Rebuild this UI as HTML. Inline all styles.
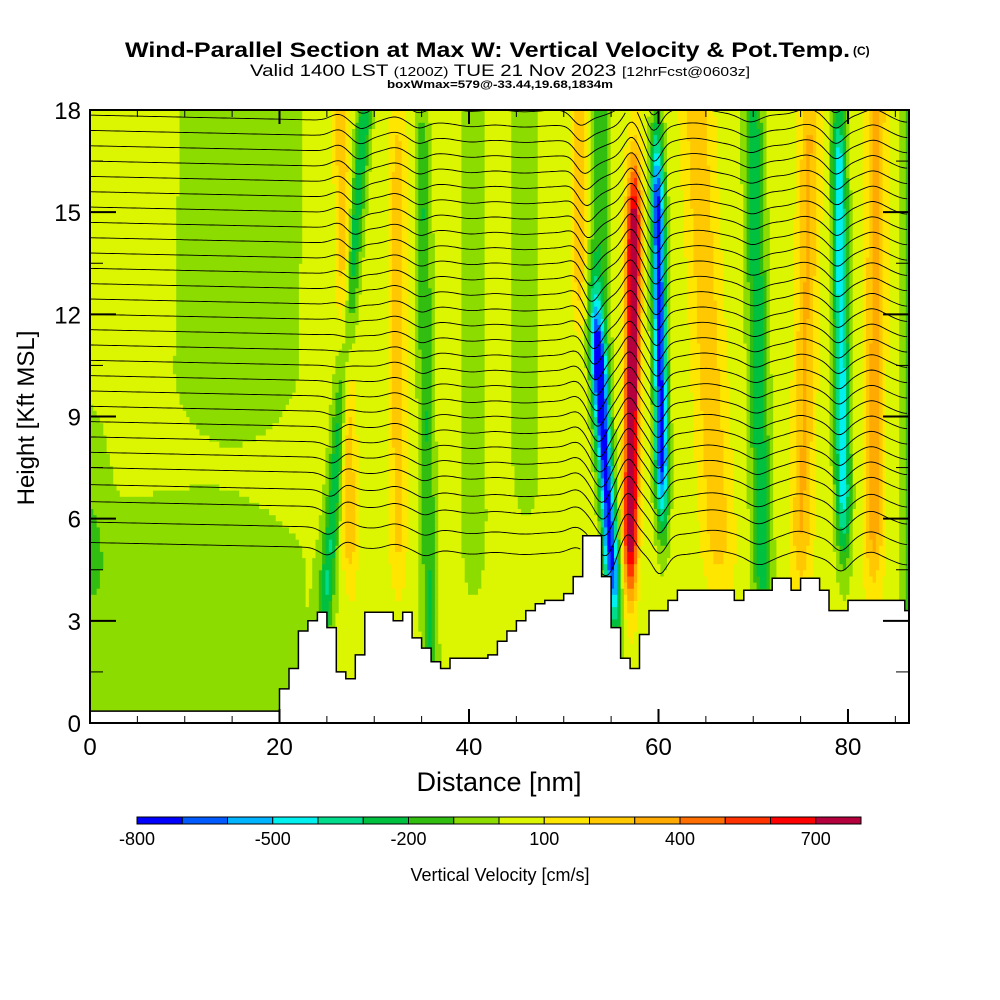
<!DOCTYPE html>
<html><head><meta charset="utf-8"><style>
html,body{margin:0;padding:0;background:#fff;}
svg{display:block;font-family:"Liberation Sans",sans-serif;}
</style></head><body>
<svg id="chart" width="1000" height="1000" viewBox="0 0 1000 1000">
<text x="125" y="57" textLength="725" lengthAdjust="spacingAndGlyphs" font-size="21" font-weight="bold">Wind-Parallel Section at Max W: Vertical Velocity &amp; Pot.Temp.</text>
<text x="853" y="55" font-size="12" font-weight="bold">(C)</text>
<text x="250" y="76" textLength="500" lengthAdjust="spacingAndGlyphs" font-size="17">Valid 1400 LST <tspan font-size="13">(1200Z)</tspan> TUE 21 Nov 2023 <tspan font-size="13">[12hrFcst@0603z]</tspan></text>
<text x="387" y="88" textLength="226" lengthAdjust="spacingAndGlyphs" font-size="11" font-weight="bold">boxWmax=579@-33.44,19.68,1834m</text>
<g id="field"></g>
<g id="contours"></g>
<g id="terrain"></g>
<g id="axes"></g>
<text x="499" y="791" text-anchor="middle" font-size="27">Distance [nm]</text>
<text transform="translate(34,418) rotate(-90)" text-anchor="middle" font-size="24">Height [Kft MSL]</text>
<g id="colorbar"></g>
<text x="500" y="881" text-anchor="middle" font-size="18">Vertical Velocity [cm/s]</text>
</svg>
<script>
// ---- data ----
const terrainKft = [0.35,0.35,0.35,0.35,0.35,0.35,0.35,0.35,0.35,0.35,0.35,0.35,0.35,0.35,0.35,0.35,0.35,0.35,0.35,0.35,
1.0,1.6,2.7,3.0,3.25,2.8,1.5,1.3,2.0,3.25,3.25,3.25,3.0,3.25,2.5,2.2,1.8,1.6,1.9,1.9,1.9,1.9,2.0,2.4,2.7,3.0,3.3,3.5,3.6,3.6,3.8,4.3,5.5,5.5,4.3,2.8,1.9,1.6,2.6,3.3,3.3,3.6,3.9,3.9,3.9,3.9,3.9,3.9,3.6,3.9,3.9,3.9,4.25,4.25,3.9,4.25,4.25,3.9,3.3,3.3,3.6,3.6,3.6,3.6,3.6,3.6,3.3];
const backgroundW = 50;
const bandTopX  = [16, 10, 0, 26.5, 29, 32.5, 35, 40.5, 46, 51.7, 53.8, 52, 57.5, 59.8, 64, 70, 76, 79, 83, 86.5];
const bandBotX  = [15, 10, 0, 27.5, 25, 32.5, 35.8, 40.5, 46, 51.7, 53.8, 55.2, 57.0, 60.5, 66.5, 71, 75, 79.6, 82.7, 86.5];
const bandWidth = [7, 14, 2, 0.8, 0.8, 0.9, 0.8, 1.3, 1.6, 0.8, 1.0, 0.8, 0.75, 0.7, 1.6, 1.0, 1.1, 0.8, 1.0, 1.0];
const bandPeak  = [-120, -115, -110, 260, -320, 200, -250, -140, -110, 250, -230, -800, 850, -800, 220, -330, 260, -520, 300, -200];
const bandZLow  = [10.5, 0, 5, 6, 4, 6, 2, 6, 8, 14, 11, 5, 6, 8, 6, 5, 6, 7, 6, 3];
const bandZHigh = [18, 4.5, 7, 17, 18, 16, 16, 18, 18, 18, 18, 10, 14, 15, 18, 17, 17, 16, 18, 18];
const thetaBase = [5.3,5.9,6.5,7.0,7.5,7.95,8.4,8.85,9.3,9.75,10.2,10.65,11.1,11.55,12.0,12.45,12.9,13.35,13.8,14.25,14.7,15.15,15.6,16.05,16.5,16.95,17.4,17.85,18.3,18.75];
const xTickLabels = ["0","20","40","60","80"];
const yTickLabels = ["0","3","6","9","12","15","18"];
const cbarColors = ["#0000ff","#005aff","#00b4ff","#00f0f0","#00dc8c","#00c040","#32be10","#8cdc00","#dcf500","#ffe600","#ffc800","#ffaa00","#ff6e00","#ff3200","#ff0000","#b4003c"];
const cbarLabels = ["-800","-500","-200","100","400","700"];

// ---- scales ----
const NS="http://www.w3.org/2000/svg";
const X0=90,X1=909,Y0=723,Y1=110, XMAX=86.44, ZMAX=18;
const X = nm => X0 + nm*(X1-X0)/XMAX;
const Y = z => Y0 - z*(Y0-Y1)/ZMAX;
function mk(tag, attrs, parent){const e=document.createElementNS(NS,tag);for(const k in attrs)e.setAttribute(k,attrs[k]);parent.appendChild(e);return e;}
function terrainAt(x){const i=Math.max(0,Math.min(terrainKft.length-1,Math.floor(x)));return terrainKft[i];}
function wAt(x,z){
  let v=backgroundW;
  for(let i=0;i<bandPeak.length;i++){
    const c=bandBotX[i]+(bandTopX[i]-bandBotX[i])*(z-4)/14;
    let zf=1; if(z<bandZLow[i]){const d=(bandZLow[i]-z)/2.2;zf=Math.exp(-d*d);} else if(z>bandZHigh[i]){const d=(z-bandZHigh[i])/2.5;zf=Math.exp(-d*d);}
    const dx=(x-c)/bandWidth[i]; v+=bandPeak[i]*Math.exp(-dx*dx)*zf;
  }
  return v;
}
function colorOf(v){let b=Math.floor((v+800)/100);b=Math.max(0,Math.min(15,b));return cbarColors[b];}

// ---- field ----
const field=document.getElementById('field');
const dx=0.35, dz=0.18;
for(let z=0;z<ZMAX;z+=dz){
  let runStart=0,runCol=null;
  const nx=Math.ceil(XMAX/dx);
  for(let i=0;i<=nx;i++){
    const x=i*dx;
    const col = i<nx ? colorOf(wAt(x+dx/2,z+dz/2)) : null;
    if(col!==runCol){
      if(runCol!==null){
        const r=mk('rect',{x:X(runStart).toFixed(1),y:Y(Math.min(ZMAX,z+dz)).toFixed(1),width:(X(Math.min(x,XMAX))-X(runStart)+0.6).toFixed(1),height:(Y(z)-Y(Math.min(ZMAX,z+dz))+0.6).toFixed(1),fill:runCol},field);
        
        
      }
      runStart=x;runCol=col;
    }
  }
}

// ---- theta contours ----
const cont=document.getElementById('contours');
function disp(x,z){
  let d=0;
  for(let i=3;i<bandPeak.length;i++){
    const c=bandBotX[i]+(bandTopX[i]-bandBotX[i])*(z-4)/14;
    const ddx=(x-c+0.3)/(bandWidth[i]*1.5);
    d+=bandPeak[i]/1000*0.7*Math.exp(-ddx*ddx);
  }
  return d - x*0.006;
}
thetaBase.forEach((h,k)=>{
  let dstr='',pen=false;
  for(let x=0;x<=XMAX+0.001;x+=0.25){
    const z=h+disp(x,h);
    if(z>terrainAt(x) && z<=ZMAX){dstr+=(pen?'L':'M')+X(x).toFixed(1)+' '+Y(z).toFixed(1);pen=true;}
    else pen=false;
  }
  const p=mk('path',{d:dstr,fill:'none',stroke:'#000','stroke-width':0.9},cont);
  
  
});

// ---- terrain ----
const ter=document.getElementById('terrain');
let td='M'+X(0)+' '+Y0;
terrainKft.forEach((t,i)=>{const xa=Math.min(i,XMAX),xb=Math.min(i+1,XMAX);td+=' L'+X(xa).toFixed(1)+' '+Y(t).toFixed(1)+' L'+X(xb).toFixed(1)+' '+Y(t).toFixed(1);});
td+=' L'+X1+' '+Y0+' Z';
const tp=mk('path',{d:td,fill:'#fff',stroke:'#000','stroke-width':1.5},ter);



// ---- axes ----
const ax=document.getElementById('axes');
const fr=mk('rect',{x:X0,y:Y1,width:X1-X0,height:Y0-Y1,fill:'none',stroke:'#000','stroke-width':2},ax);


for(let v=0;v<=85;v+=5){
  const L=(v%20===0)?14:7;
  mk('line',{x1:X(v),x2:X(v),y1:Y0,y2:Y0-L,stroke:'#000','stroke-width':L>10?2:1},ax);
  mk('line',{x1:X(v),x2:X(v),y1:Y1,y2:Y1+L,stroke:'#000','stroke-width':L>10?2:1},ax);
}
xTickLabels.forEach(s=>{const t=mk('text',{x:X(+s),y:755,'text-anchor':'middle','font-size':24},ax);t.textContent=s;
  
  });
for(let v=0;v<=18;v+=1.5){
  const L=(v%3===0)?26:13;
  mk('line',{x1:X0,x2:X0+L,y1:Y(v),y2:Y(v),stroke:'#000','stroke-width':L>20?2:1},ax);
  mk('line',{x1:X1,x2:X1-L,y1:Y(v),y2:Y(v),stroke:'#000','stroke-width':L>20?2:1},ax);
}
yTickLabels.forEach(s=>{const t=mk('text',{x:81,y:Y(+s)+9,'text-anchor':'end','font-size':24},ax);t.textContent=s;
  
  });

// ---- colorbar ----
const cb=document.getElementById('colorbar');
const cbx=137,cbw=45.25;
cbarColors.forEach((c,i)=>{const r=mk('rect',{x:cbx+i*cbw,y:817,width:cbw,height:7,fill:c,stroke:'#000','stroke-width':1},cb);
  
  });
cbarLabels.forEach(s=>{const i=(+s+800)/100;const t=mk('text',{x:cbx+i*cbw,y:845,'text-anchor':'middle','font-size':18},cb);t.textContent=s;
  
  });
</script>
</body></html>
